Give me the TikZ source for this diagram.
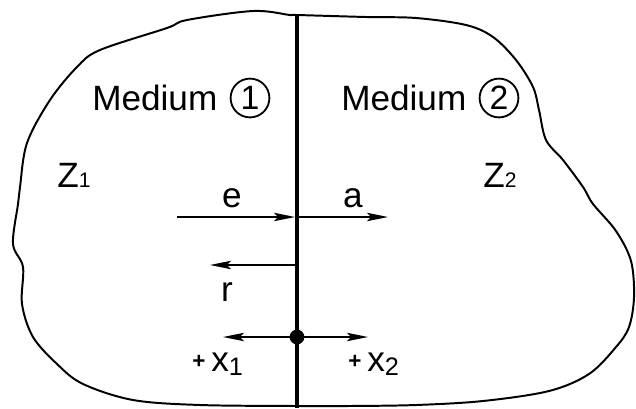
\documentclass[tikz,border=0pt]{standalone}
\usepackage{fontspec}
\setmainfont{Liberation Sans}
\usetikzlibrary{arrows.meta}
\tikzset{
    txt/.style={inner sep=0pt, font=\fontsize{25}{30}\selectfont},
    numcirc/.style={circle, draw, line width=1.3pt, minimum size=0.97cm, inner sep=0pt, font=\fontsize{24}{28}\selectfont},
    wave/.style={-{Stealth[length=15pt, width=6pt, inset=3pt]}, line width=1.2pt},
    border/.style={line width=1.4pt},
    interface/.style={line width=3pt}
}
\newcommand{\smalldigit}[1]{{\fontsize{15}{15}\selectfont #1}}
\newcommand{\lowdigit}[1]{\raisebox{-3.5pt}{\fontsize{18}{18}\selectfont #1}}
\newcommand{\smallplus}{\raisebox{1.5pt}{\fontsize{16}{16}\selectfont\bfseries +}}

\begin{document}
\begin{tikzpicture}[x=0.025cm, y=-0.025cm]
    \useasboundingbox (0,0) rectangle (636,408);

    % Outline of the region
    \draw [border] plot [smooth cycle, tension=0.55] coordinates {
        (297,15) (366,17) (416,18) (466,25) (493,37) (516,60) (533,87)
        (539,110) (546,140) (563,160) (583,187) (593,204) (616,231)
        (631,261) (634,297) (629,327) (616,347) (589,374) (549,391)
        (483,401) (416,405) (349,406) (297,406) (200,405) (133,400)
        (83,384) (57,364) (33,337) (22,304) (23,267) (13,244) (18,204)
        (20,187) (27,143) (50,100) (77,67) (100,50) (167,28) (187,20)
        (253,11) (290,15)};

    % The interface between both media
    \coordinate (top) at (297,15);
    \coordinate (bot) at (297,408);
    \draw [interface] (top) -- (bot);

    % Medium labels
    \node [txt, anchor=west] (med1) at (92,98) {Medium};
    \node [numcirc] (num1) at (250,98) {1};
    \node [txt, anchor=west] (med2) at (341,98) {Medium};
    \node [numcirc] (num2) at (499,98) {2};

    % Impedances
    \node [txt, anchor=base west] (z1) at (57,187) {Z\smalldigit{1}};
    \node [txt, anchor=base west] (z2) at (483,187) {Z\smalldigit{2}};

    % Incident, transmitted and reflected waves
    \coordinate (estart) at (177,217);
    \coordinate (eend) at (295,217);
    \coordinate (astart) at (297,217);
    \coordinate (aend) at (388,217);
    \coordinate (rstart) at (297,265);
    \coordinate (rend) at (210,265);
    \draw [wave] (estart) -- (eend);
    \draw [wave] (astart) -- (aend);
    \draw [wave] (rstart) -- (rend);
    \node [txt, anchor=base] (e) at (232,207) {e};
    \node [txt, anchor=base] (a) at (353,207) {a};
    \node [txt, anchor=base] (r) at (227,301) {r};

    % Origin and coordinate directions
    \node [circle, fill, minimum size=0.37cm, inner sep=0pt] (orig) at (297,337) {};
    \coordinate (x1end) at (223,337);
    \coordinate (x2end) at (368,337);
    \draw [wave] (orig.center) -- (x1end);
    \draw [wave] (orig.center) -- (x2end);
    \node [txt, anchor=base west] (x1) at (192,371) {\smallplus\,x\lowdigit{1}};
    \node [txt, anchor=base west] (x2) at (348,371) {\smallplus\,x\lowdigit{2}};
\end{tikzpicture}
\end{document}
